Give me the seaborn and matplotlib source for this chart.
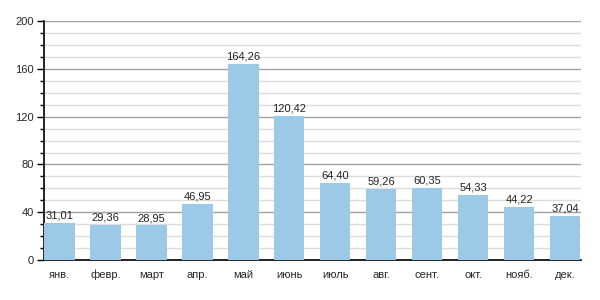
import matplotlib
matplotlib.use("Agg")
import matplotlib.pyplot as plt
import seaborn as sns
import pandas as pd
from matplotlib.ticker import MultipleLocator

months = ["янв.", "февр.", "март", "апр.", "май", "июнь", "июль", "авг.", "сент.", "окт.", "нояб.", "дек."]
values = [31.01, 29.36, 28.95, 46.95, 164.26, 120.42, 64.40, 59.26, 60.35, 54.33, 44.22, 37.04]
labels = ["31,01", "29,36", "28,95", "46,95", "164,26", "120,42", "64,40", "59,26", "60,35", "54,33", "44,22", "37,04"]
yticks = [0, 40, 80, 120, 160, 200]

sns.set_theme(style="white")
plt.rcParams['font.family'] = ['Liberation Sans', 'DejaVu Sans']

df = pd.DataFrame({"month": months, "value": values})

fig = plt.figure(figsize=(6, 3), dpi=100)
ax = fig.add_axes([0.073, 0.133, 0.895, 0.797])
sns.barplot(data=df, x="month", y="value", color="#9ccae6", saturation=1, width=0.66,
            linewidth=0, edgecolor="none", ax=ax, zorder=3)

ax.set_ylim(0, 200)
ax.set_yticks(yticks)
ax.yaxis.set_minor_locator(MultipleLocator(10))
ax.grid(axis="y", which="major", color="#a0a0a0", linewidth=1, zorder=0)
ax.grid(axis="y", which="minor", color="#dcdcdc", linewidth=1, zorder=0)
ax.set_axisbelow(True)
ax.set_xlim(-0.34, 11.34)

for sp in ["top", "right"]:
    ax.spines[sp].set_visible(False)
for sp in ["left", "bottom"]:
    ax.spines[sp].set_color("black")
    ax.spines[sp].set_linewidth(1.2)

ax.tick_params(axis="y", which="major", left=True, length=5, width=1, color="black", labelsize=8, pad=2)
ax.tick_params(axis="y", which="minor", left=True, length=3, width=1, color="black")
ax.tick_params(axis="x", bottom=False, labelsize=8, pad=1)
ax.set_xlabel("")
ax.set_ylabel("")

for i, (v, t) in enumerate(zip(values, labels)):
    ax.text(i, v + 2, t, ha="center", va="bottom", fontsize=8, color="#222222")

fig.savefig("out.png", dpi=100)
